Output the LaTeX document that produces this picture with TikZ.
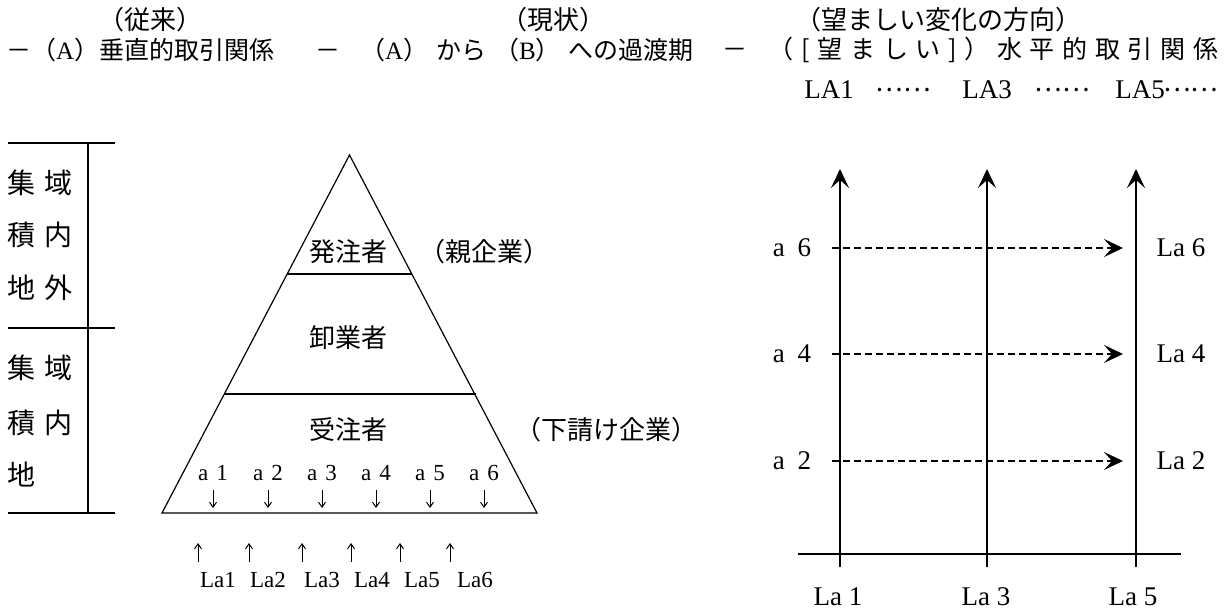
\documentclass[tikz,border=0pt]{standalone}
\usepackage{fontspec}
\setmainfont{Liberation Serif}
\newfontfamily\jp{Noto Sans CJK JP}
\usetikzlibrary{arrows.meta}
\begin{document}
\begin{tikzpicture}[x=1pt,y=-1pt,
  hdtxt/.style={font=\jp\fontsize{26}{30}\selectfont, inner sep=0pt},
  subtxt/.style={font=\jp\fontsize{25}{30}\selectfont, inner sep=0pt},
  jptxt/.style={font=\jp\fontsize{26}{30}\selectfont, inner sep=0pt},
  tbl/.style={font=\jp\fontsize{28}{32}\selectfont, inner sep=0pt},
  lat/.style={font=\fontsize{23}{26}\selectfont, inner sep=0pt},
  latbig/.style={font=\fontsize{27}{30}\selectfont, inner sep=0pt},
  thinln/.style={line width=1.2pt},
  bigarrow/.style={line width=1.6pt, -{Stealth[length=19pt,width=18pt,inset=8pt]}},
  dasharrow/.style={line width=1.3pt, dash pattern=on 7pt off 4pt, -{Stealth[length=19pt,width=18pt,inset=8pt]}},
  smallarr/.style={line width=1pt, -{Straight Barb[length=5pt,width=7pt]}}
]
\useasboundingbox (0,0) rectangle (1228,610);

% headers
\node[hdtxt] (h1) at (150,20) {（従来）};
\node[hdtxt] (h2) at (553,20) {（現状）};
\node[hdtxt] (h3) at (938,20) {（望ましい変化の方向）};
\node[subtxt, anchor=west] (s1) at (6,50) {－（{\rmfamily A}）垂直的取引関係};
\node[subtxt, anchor=east] (s2) at (694,50) {－\hspace{20pt}（{\rmfamily A}）\hspace{8pt}から\hspace{8pt}（{\rmfamily B}）\hspace{8pt}への過渡期};
\node[subtxt, anchor=west] (s3) at (722,50) {\makebox[496pt]{－\hspace{14pt}\hfill（\hfill[\hfill 望\hfill ま\hfill し\hfill い\hfill]\hfill）\hfill 水\hfill 平\hfill 的\hfill 取\hfill 引\hfill 関\hfill 係}};

% LA row
\node[latbig] (LA1) at (829,90) {LA1};
\node[hdtxt] (d1) at (903,90) {……};
\node[latbig] (LA3) at (987,90) {LA3};
\node[hdtxt] (d2) at (1062,90) {……};
\node[latbig] (LA5) at (1140,90) {LA5};
\node[hdtxt, anchor=west] (d3) at (1163,90) {……};

% left table
\draw[thinln] (8,143) -- (115,143);
\draw[thinln] (8,328) -- (115,328);
\draw[thinln] (8,513) -- (115,513);
\draw[thinln] (88,143) -- (88,513);
\node[tbl] (t11) at (21,183) {集};
\node[tbl] (t12) at (58,183) {域};
\node[tbl] (t21) at (21,235) {積};
\node[tbl] (t22) at (58,235) {内};
\node[tbl] (t31) at (21,288) {地};
\node[tbl] (t32) at (58,288) {外};
\node[tbl] (u11) at (21,368) {集};
\node[tbl] (u12) at (58,368) {域};
\node[tbl] (u21) at (21,423) {積};
\node[tbl] (u22) at (58,423) {内};
\node[tbl] (u31) at (21,475) {地};

% pyramid
\coordinate (apex) at (349.5,155);
\coordinate (bl) at (162,513);
\coordinate (br) at (537,513);
\draw[thinln, line join=miter] (bl) -- (apex) -- (br) -- cycle;
\draw[thinln] (287,274) -- (412,274);
\draw[thinln] (224,394) -- (476,394);
\node[jptxt] (p1) at (348,252) {発注者};
\node[jptxt] (p2) at (348,338) {卸業者};
\node[jptxt] (p3) at (348,430) {受注者};
\node[jptxt] (q1) at (484,252) {（親企業）};
\node[jptxt] (q2) at (606,430) {（下請け企業）};

\foreach \i/\x in {1/213,2/268,3/322,4/376,5/430,6/484}{
  \node[lat] (a\i) at (\x,473) {a\hspace{8pt}\i};
  \coordinate (da\i) at (\x,490);
  \coordinate (db\i) at (\x,508);
  \draw[smallarr] (da\i) -- (db\i);
}
\foreach \i/\x/\ax in {1/218/198,2/268/249,3/322/302,4/372/351,5/422/400,6/475/450}{
  \node[lat] (L\i) at (\x,580) {La\i};
  \coordinate (ua\i) at (\ax,562);
  \coordinate (ub\i) at (\ax,543);
  \draw[smallarr] (ua\i) -- (ub\i);
}

% right panel
\coordinate (hl) at (798,554);
\coordinate (hr) at (1181,554);
\draw[thinln] (hl) -- (hr);
\foreach \n/\x in {1/840,3/987,5/1136}{
  \coordinate (vb\n) at (\x,567);
  \coordinate (vt\n) at (\x,169);
  \draw[bigarrow] (vb\n) -- (vt\n);
}
\node[latbig] (B1) at (838,597) {La 1};
\node[latbig] (B3) at (986,597) {La 3};
\node[latbig] (B5) at (1133,597) {La 5};
\foreach \k/\y in {6/248,4/354,2/461}{
  \node[latbig] (ra\k) at (792,\y) {a\hspace{13pt}\k};
  \node[latbig] (rL\k) at (1181,\y) {La \k};
  \coordinate (ds\k) at (832,\y);
  \coordinate (de\k) at (1123,\y);
  \draw[dasharrow] (ds\k) -- (de\k);
}
\end{tikzpicture}
\end{document}
